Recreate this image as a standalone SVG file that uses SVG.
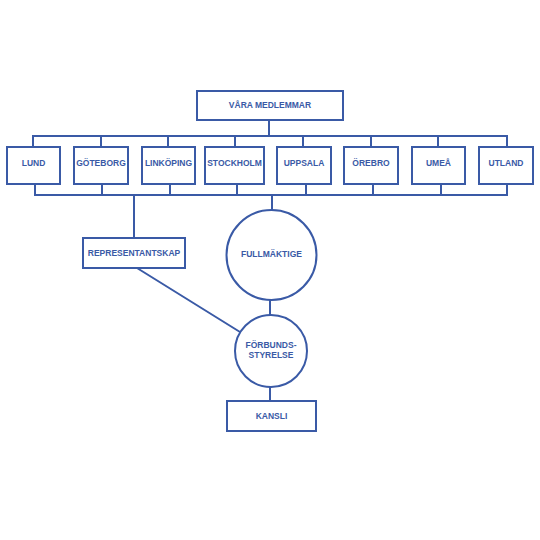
<svg xmlns="http://www.w3.org/2000/svg" width="540" height="540" viewBox="0 0 540 540">
<style>
.b{fill:#fff;stroke:#3a5aa6;stroke-width:2}
.c{fill:none;stroke:#3a5aa6;stroke-width:2}
text{font-family:"Liberation Sans",Arial,sans-serif;font-weight:bold;font-size:8.5px;fill:#3a5aa6;text-anchor:middle;dominant-baseline:central}
</style>
<rect width="540" height="540" fill="#fff"/>
<g id="connectors" class="c">
<path d="M269 120V136M33 147V136H507V147M101 136V147M168 136V147M235 136V147M303 136V147M371 136V147M438 136V147"/>
<path d="M35 184V195H507V184M102 184V195M170 184V195M237 184V195M306 184V195M373 184V195M441 184V195"/>
<path d="M134 195V238M272 195V210M137 268L240 332M270 300V315M270 387V401"/>
</g>
<g id="medlemmar"><rect class="b" x="197" y="91" width="146" height="29"/><text x="270" y="104.5">VÅRA MEDLEMMAR</text></g>
<g id="lund"><rect class="b" x="7" y="147" width="53" height="37"/><text x="33.5" y="163">LUND</text></g>
<g id="goteborg"><rect class="b" x="74" y="147" width="54" height="37"/><text x="101" y="163">GÖTEBORG</text></g>
<g id="linkoping"><rect class="b" x="142" y="147" width="53" height="37"/><text x="168.5" y="163">LINKÖPING</text></g>
<g id="stockholm"><rect class="b" x="205" y="147" width="59" height="37"/><text x="234.5" y="163">STOCKHOLM</text></g>
<g id="uppsala"><rect class="b" x="277" y="147" width="54" height="37"/><text x="304" y="163">UPPSALA</text></g>
<g id="orebro"><rect class="b" x="344" y="147" width="54" height="37"/><text x="371" y="163">ÖREBRO</text></g>
<g id="umea"><rect class="b" x="412" y="147" width="53" height="37"/><text x="438.5" y="163">UMEÅ</text></g>
<g id="utland"><rect class="b" x="479" y="147" width="54" height="37"/><text x="506" y="163">UTLAND</text></g>
<g id="representantskap"><rect class="b" x="83" y="238" width="102" height="30"/><text x="134" y="253">REPRESENTANTSKAP</text></g>
<g id="fullmaktige"><circle class="b" cx="271.5" cy="255" r="45"/><text x="271.5" y="254">FULLMÄKTIGE</text></g>
<g id="forbundsstyrelse"><circle class="b" cx="271" cy="351" r="36"/><text x="271" y="345">FÖRBUNDS-</text><text x="271" y="355">STYRELSE</text></g>
<g id="kansli"><rect class="b" x="227" y="401" width="89" height="30"/><text x="271.5" y="416">KANSLI</text></g>
</svg>
